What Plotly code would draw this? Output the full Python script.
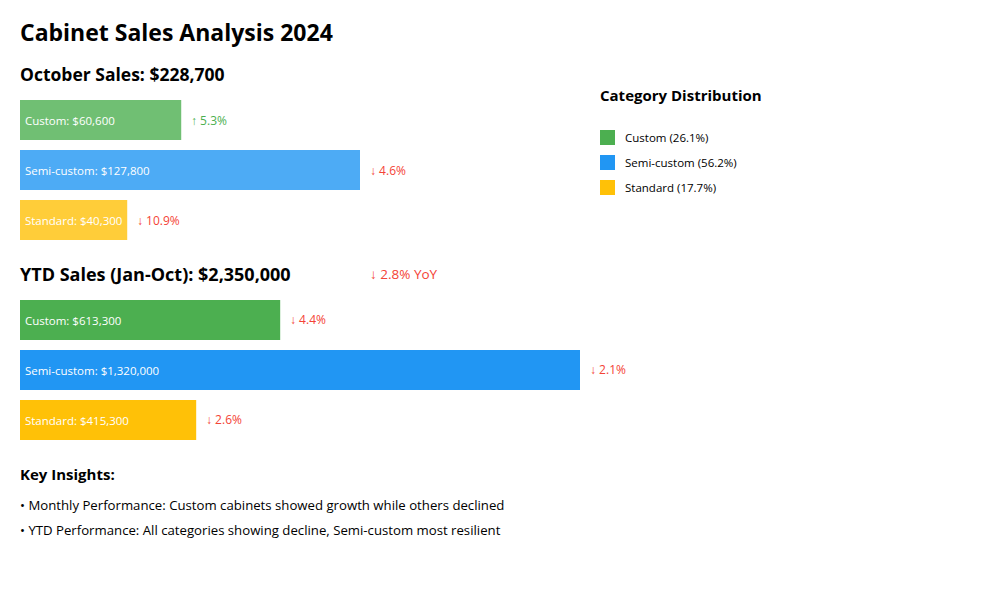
import plotly.graph_objects as go

categories = ["Custom", "Semi-custom", "Standard"]
oct_values = [60600, 127800, 40300]
oct_changes = [5.3, -4.6, -10.9]
oct_total = 228700
ytd_values = [613300, 1320000, 415300]
ytd_changes = [-4.4, -2.1, -2.6]
ytd_total = 2350000
ytd_yoy = -2.8
colors = ["#4CAF50", "#2196F3", "#FFC107"]
insights = [
    "Monthly Performance: Custom cabinets showed growth while others declined",
    "YTD Performance: All categories showing decline, Semi-custom most resilient",
]

FONT = "Open Sans, Noto Sans, sans-serif"
UP = "#4CAF50"
DOWN = "#F44336"
W, H = 1000, 600
OFF = 8  # page body margin


def px_x(x):
    return (x - OFF) / W


def py(y):
    return 1 - (y - OFF) / H


def arrow(v):
    return ("↑ " if v >= 0 else "↓ ") + f"{abs(v):.1f}%"


fig = go.Figure()

# October bars
fig.add_trace(go.Bar(
    y=categories, x=oct_values, orientation="h",
    marker=dict(color=colors, opacity=0.8, line=dict(width=0)),
    text=[f"\u2009{c}: ${v:,}" for c, v in zip(categories, oct_values)],
    textposition="inside", insidetextanchor="start",
    textfont=dict(color="white", size=11.5, family=FONT),
    xaxis="x2", yaxis="y2", showlegend=False, hoverinfo="skip",
))

# YTD bars
fig.add_trace(go.Bar(
    y=categories, x=ytd_values, orientation="h",
    marker=dict(color=colors, line=dict(width=0)),
    text=[f"\u2009{c}: ${v:,}" for c, v in zip(categories, ytd_values)],
    textposition="inside", insidetextanchor="start",
    textfont=dict(color="white", size=11.5, family=FONT),
    xaxis="x", yaxis="y", showlegend=False, hoverinfo="skip",
))

ann = []
for c, v, ch in zip(categories, oct_values, oct_changes):
    ann.append(dict(x=v, y=c, xref="x2", yref="y2", text=arrow(ch), showarrow=False,
                    xanchor="left", xshift=8, font=dict(size=12, color=UP if ch >= 0 else DOWN, family=FONT)))
for c, v, ch in zip(categories, ytd_values, ytd_changes):
    ann.append(dict(x=v, y=c, xref="x", yref="y", text=arrow(ch), showarrow=False,
                    xanchor="left", xshift=8, font=dict(size=12, color=UP if ch >= 0 else DOWN, family=FONT)))


def txt(x, y, s, size, bold=False, color="#000", anchor="left"):
    ann.append(dict(x=px_x(x), y=py(y), xref="paper", yref="paper", text=(f"<b>{s}</b>" if bold else s),
                    showarrow=False, xanchor=anchor, yanchor="middle",
                    font=dict(size=size, color=color, family=FONT)))


txt(18, 32, "Cabinet Sales Analysis 2024", 23, True)
txt(18, 74, f"October Sales: ${oct_total:,}", 17.5, True)
txt(18, 274, f"YTD Sales (Jan-Oct): ${ytd_total:,}", 18, True)
txt(368, 274, arrow(ytd_yoy) + " YoY", 13.5, False, DOWN)
txt(598, 95, "Category Distribution", 15, True)
txt(18, 474, "Key Insights:", 15, True)
for i, s in enumerate(insights):
    txt(18, 505 + 25 * i, "• " + s, 13.2)

shapes = []
for i, (c, v, col) in enumerate(zip(categories, ytd_values, colors)):
    yc = 137.5 + 25 * i
    shapes.append(dict(type="rect", xref="paper", yref="paper", x0=px_x(600), x1=px_x(615),
                       y0=py(yc + 7.5), y1=py(yc - 7.5), fillcolor=col, line=dict(width=0)))
    txt(623, yc, f"{c} ({v / ytd_total * 100:.1f}%)", 11.5)

fig.update_layout(
    width=W, height=H, margin=dict(l=0, r=0, t=0, b=0),
    paper_bgcolor="white", plot_bgcolor="white",
    bargap=0.2, showlegend=False,
    annotations=ann, shapes=shapes,
    font=dict(family=FONT),
    xaxis=dict(domain=[px_x(20), px_x(580)], range=[0, max(ytd_values)], visible=False, fixedrange=True),
    yaxis=dict(domain=[py(445), py(295)], autorange="reversed", visible=False, fixedrange=True),
    xaxis2=dict(domain=[px_x(20), px_x(360)], range=[0, max(oct_values)], visible=False, fixedrange=True, anchor="y2"),
    yaxis2=dict(domain=[py(245), py(95)], autorange="reversed", visible=False, fixedrange=True, anchor="x2"),
    uniformtext=dict(minsize=8, mode="show"),
)

fig.write_html("out.html", config={"displayModeBar": False})
